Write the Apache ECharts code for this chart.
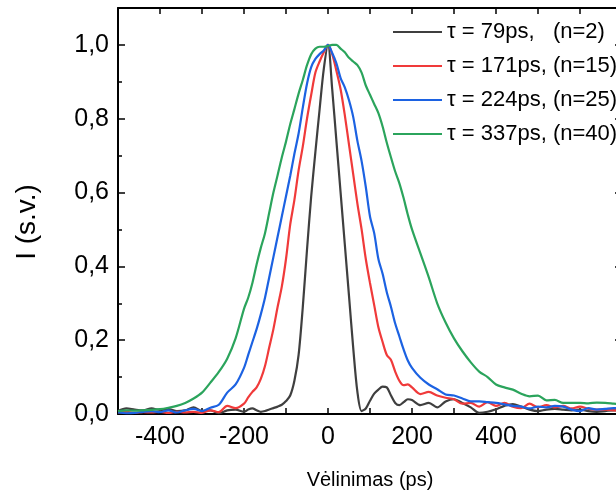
<!DOCTYPE html>
<html><head><meta charset="utf-8">
<script src="https://cdn.jsdelivr.net/npm/echarts@6/dist/echarts.min.js"></script>
<style>html,body{margin:0;padding:0;background:#fff}#c{width:616px;height:493px}</style>
</head><body><div id="c"></div>
<script>
const delays = [-500,-480,-460,-440,-420,-400,-380,-360,-340,-320,-300,-280,-260,-240,-220,-200,
  -190,-180,-170,-160,-150,-140,-130,-120,-110,-100,-90,-80,-70,-60,-50,-40,-30,-20,-10,0,
  10,20,30,40,50,60,70,80,90,100,110,120,130,140,150,160,170,180,190,
  200,220,240,260,280,300,320,340,360,380,400,420,440,460,480,500,520,540,560,580,600,620,640,660,680,700];

const tau79 = [0.008,0.015,0.012,0.010,0.015,0.011,0.013,0.008,0.010,0.018,0.008,0.010,0.002,0.010,0.012,0.006,
  0.012,0.015,0.010,0.006,0.008,0.012,0.016,0.020,0.025,0.035,0.050,0.090,0.160,0.290,0.445,0.590,0.710,0.825,0.935,1.000,
  0.880,0.740,0.600,0.460,0.320,0.180,0.060,0.008,0.015,0.036,0.055,0.066,0.074,0.072,0.050,0.030,0.024,0.032,0.040,
  0.038,0.024,0.030,0.018,0.034,0.040,0.030,0.018,0.003,0.006,0.013,0.022,0.027,0.020,0.012,0.008,0.012,0.014,0.012,0.010,0.012,0.008,0.006,0.008,0.010,0.010];

const tau171 = [0.004,0.006,0.003,0.005,0.004,0.006,0.003,0.006,0.004,0.006,0.003,0.010,0.005,0.022,0.016,0.028,
  0.045,0.060,0.072,0.095,0.130,0.180,0.230,0.290,0.345,0.420,0.513,0.580,0.660,0.725,0.800,0.865,0.925,0.955,0.980,1.000,
  0.975,0.930,0.880,0.810,0.730,0.650,0.570,0.500,0.420,0.355,0.295,0.235,0.195,0.160,0.146,0.115,0.090,0.078,0.080,
  0.072,0.054,0.060,0.050,0.044,0.040,0.028,0.030,0.020,0.032,0.022,0.030,0.020,0.016,0.028,0.018,0.024,0.018,0.022,0.015,0.020,0.014,0.012,0.012,0.010,0.010];

const tau224 = [0.004,0.002,0.003,0.006,0.008,0.005,0.010,0.004,0.010,0.014,0.008,0.017,0.025,0.058,0.080,0.125,
  0.160,0.195,0.230,0.270,0.315,0.370,0.425,0.480,0.535,0.590,0.645,0.705,0.760,0.830,0.895,0.940,0.962,0.975,0.985,1.000,
  0.978,0.950,0.910,0.885,0.850,0.805,0.740,0.685,0.615,0.535,0.490,0.420,0.380,0.330,0.290,0.245,0.210,0.175,0.145,
  0.125,0.098,0.080,0.067,0.053,0.050,0.042,0.034,0.034,0.032,0.030,0.026,0.022,0.020,0.015,0.020,0.018,0.022,0.020,0.012,0.008,0.016,0.012,0.014,0.016,0.014];

const tau337 = [0.008,0.010,0.009,0.010,0.011,0.013,0.017,0.022,0.030,0.042,0.058,0.085,0.114,0.150,0.205,0.285,
  0.315,0.355,0.405,0.450,0.490,0.545,0.600,0.647,0.695,0.738,0.785,0.826,0.868,0.905,0.945,0.975,0.990,0.995,0.995,0.997,
  1.000,1.000,0.990,0.980,0.965,0.955,0.945,0.925,0.890,0.865,0.840,0.815,0.779,0.735,0.695,0.657,0.625,0.585,0.540,
  0.500,0.435,0.370,0.300,0.248,0.205,0.170,0.140,0.115,0.100,0.080,0.072,0.066,0.055,0.048,0.050,0.037,0.038,0.030,0.030,0.030,0.029,0.031,0.030,0.028,0.026];

const seriesNames = ['\u03c4 = 79ps,   (n=2)', '\u03c4 = 171ps, (n=15)', '\u03c4 = 224ps, (n=25)', '\u03c4 = 337ps, (n=40)'];
const seriesColors = ['#3f3f3f', '#f03a3a', '#1c62e2', '#2ba45c'];
const xTickLabels = [-400, -200, 0, 200, 400, 600];
const yTickLabels = ['0,0', '0,2', '0,4', '0,6', '0,8', '1,0'];

const FONT = '"Liberation Sans", Arial, sans-serif';
const values = [tau79, tau171, tau224, tau337];

const chart = echarts.init(document.getElementById('c'), null, {renderer: 'canvas'});
const axisLine = {show: true, onZero: false, lineStyle: {color: '#000', width: 2}};
const tickStyle = {color: '#000', width: 1.5};
chart.setOption({
  animation: false,
  backgroundColor: '#fff',
  grid: {left: 118, top: 8, width: 504, height: 406, containLabel: false, outerBoundsMode: 'none'},
  legend: {
    orient: 'vertical', left: 393, top: 21, padding: 0,
    icon: 'rect', itemWidth: 49, itemHeight: 2, itemGap: 12,
    data: seriesNames,
    textStyle: {fontSize: 22, lineHeight: 22, color: '#000', fontFamily: FONT}
  },
  xAxis: [{
    type: 'value', position: 'bottom', min: -500, max: 700, interval: 100,
    axisLine: axisLine,
    axisTick: {show: true, inside: true, length: 6, lineStyle: tickStyle},
    axisLabel: {
      fontSize: 25, color: '#000', fontFamily: FONT, margin: 11,
      formatter: v => { const r = Math.round(v); return xTickLabels.indexOf(r) >= 0 ? String(r) : ''; }
    },
    splitLine: {show: false},
    name: 'V\u0117linimas (ps)', nameLocation: 'middle', nameGap: 56,
    nameTextStyle: {fontSize: 20, color: '#000', fontFamily: FONT}
  }, {
    type: 'value', position: 'top', min: -500, max: 700, interval: 100,
    axisLine: axisLine,
    axisTick: {show: true, inside: true, length: 6, lineStyle: tickStyle},
    axisLabel: {show: false}, splitLine: {show: false}
  }],
  yAxis: [{
    type: 'value', position: 'left', min: 0, max: 1.1, interval: 0.1,
    axisLine: axisLine,
    axisTick: {show: true, inside: true, length: 4, lineStyle: tickStyle},
    axisLabel: {
      fontSize: 25, color: '#000', fontFamily: FONT, margin: 9,
      formatter: v => { const k = Math.round(v * 10); return (k % 2 === 0 && k <= 10) ? yTickLabels[k / 2] : ''; }
    },
    splitLine: {show: false},
    name: 'I (s.v.)', nameLocation: 'middle', nameGap: 77, nameRotate: 90,
    nameTextStyle: {fontSize: 28, color: '#000', fontFamily: FONT, padding: [0, 22, 0, 0]}
  }, {
    type: 'value', position: 'left', offset: 0, min: 0, max: 1.1, interval: 0.2,
    axisLine: {show: false, onZero: false},
    axisTick: {show: true, inside: true, length: 7, lineStyle: tickStyle},
    axisLabel: {show: false}, splitLine: {show: false}
  }, {
    type: 'value', position: 'right', min: 0, max: 1.1, interval: 0.2,
    axisLine: axisLine,
    axisTick: {show: true, inside: true, length: 7, lineStyle: tickStyle},
    axisLabel: {show: false}, splitLine: {show: false}
  }],
  series: values.map((vals, i) => ({
    name: seriesNames[i], type: 'line', xAxisIndex: 0, yAxisIndex: 0,
    data: delays.map((d, j) => [d, vals[j]]),
    symbol: 'none', smooth: 0.3,
    color: seriesColors[i],
    lineStyle: {color: seriesColors[i], width: 2.2},
    z: 2 + i
  }))
});
</script></body></html>
